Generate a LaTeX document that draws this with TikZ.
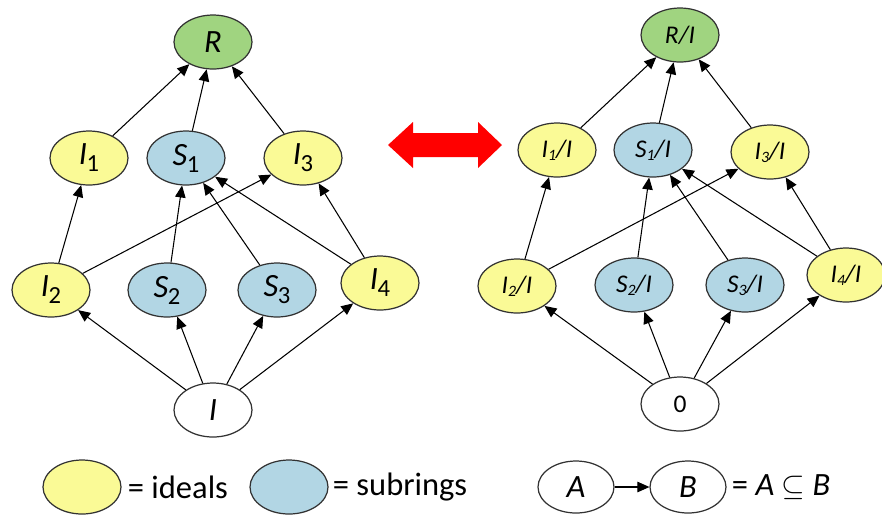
\documentclass[tikz,border=0pt]{standalone}
\usepackage{fontspec}
\setmainfont{Carlito}
\usetikzlibrary{arrows.meta,positioning,shapes.geometric}

\definecolor{idealfill}{RGB}{250,250,150}
\definecolor{subfill}{RGB}{178,214,228}
\definecolor{ringfill}{RGB}{160,212,128}
\definecolor{outline}{RGB}{50,50,50}

\tikzset{
    ring/.style={draw=outline, line width=0.7pt, shape=ellipse, inner sep=0,
        minimum width=1.56cm, minimum height=1.08cm},
    ideal/.style={ring, fill=idealfill},
    subring/.style={ring, fill=subfill},
    whole/.style={ring, fill=ringfill},
    bare/.style={ring, fill=white},
    incl/.style={-{Triangle[length=2.4mm,width=2.1mm]}, line width=0.6pt},
    big/.style={font=\fontsize{18.5}{21}\selectfont},
    small/.style={font=\fontsize{14.5}{17}\selectfont}
}
\newcommand{\sub}[2]{\textit{#1}\kern-0.3pt\raisebox{-0.45ex}{\fontsize{14}{16}\selectfont #2}}
\newcommand{\quo}[2]{\textit{#1\raisebox{-0.25ex}{\fontsize{9}{10}\selectfont #2}/I}}

\begin{document}
\begin{tikzpicture}[x=0.02cm, y=-0.02cm]

    \useasboundingbox (0,0) rectangle (882,515);

    % Lattice of R
    \node[whole, big] (R) at (213, 42) {\textit{R}};
    \node[ideal, big] (I1) at (89, 158) {\sub{I}{1}};
    \node[subring, big] (S1) at (186, 158) {\sub{S}{1}};
    \node[ideal, big] (I3) at (303, 158) {\sub{I}{3}};
    \node[ideal, big] (I2) at (51, 290) {\sub{I}{2}};
    \node[subring, big] (S2) at (167, 290) {\sub{S}{2}};
    \node[subring, big] (S3) at (277, 290) {\sub{S}{3}};
    \node[ideal, big] (I4) at (380, 283) {\sub{I}{4}};
    \node[bare, big] (I) at (213, 410) {\textit{I}};

    % Lattice of R/I
    \node[whole, small] (RI) at (680, 35) {\textit{R/I}};
    \node[ideal, small] (I1I) at (557, 150) {\quo{I}{1}};
    \node[subring, small] (S1I) at (653, 150) {\quo{S}{1}};
    \node[ideal, small] (I3I) at (770, 152) {\quo{I}{3}};
    \node[ideal, small] (I2I) at (517, 286) {\quo{I}{2}};
    \node[subring, small] (S2I) at (634, 285) {\quo{S}{2}};
    \node[subring, small] (S3I) at (745, 285) {\quo{S}{3}};
    \node[ideal, small] (I4I) at (846, 275) {\quo{I}{4}};
    \node[bare, small] (Z) at (680, 404) {0};

    % Inclusions
    \foreach \a/\b in {I1/R, S1/R, I3/R, I2/I1, I2/I3, S2/S1, S3/S1, I4/S1,
        I4/I3, I/I2, I/S2, I/S3, I/I4}
    {
        \draw[incl] (\a) -- (\b);
    }
    \foreach \a/\b in {I1I/RI, S1I/RI, I3I/RI, I2I/I1I, I2I/I3I, S2I/S1I,
        S3I/S1I, I4I/S1I, I4I/I3I, Z/I2I, Z/S2I, Z/S3I, Z/I4I}
    {
        \draw[incl] (\a) -- (\b);
    }

    % Correspondence
    \fill[red] (388,145) -- (413,122) -- (413,133) -- (478,133) -- (478,122)
        -- (502,145) -- (478,168) -- (478,157) -- (413,157) -- (413,168) -- cycle;

    % Legend
    \node[ideal] (legI) at (82, 487) {};
    \node[anchor=west, inner sep=0, big, right=0.12cm of legI] (legIt) {= ideals};
    \node[subring] (legS) at (289, 487) {};
    \node[anchor=west, inner sep=0, big, right=0.08cm of legS] (legSt) {= subrings};
    \node[bare, big, minimum width=1.52cm, minimum height=1.04cm] (A) at (576, 487) {\textit{A}};
    \node[bare, big, minimum width=1.52cm, minimum height=1.04cm] (B) at (688, 487) {\textit{B}};
    \node[anchor=west, inner sep=0, big, right=0.1cm of B] (AB) {= \textit{A} $\subseteq$ \textit{B}};
    \draw[incl] (A) -- (B);

\end{tikzpicture}
\end{document}
